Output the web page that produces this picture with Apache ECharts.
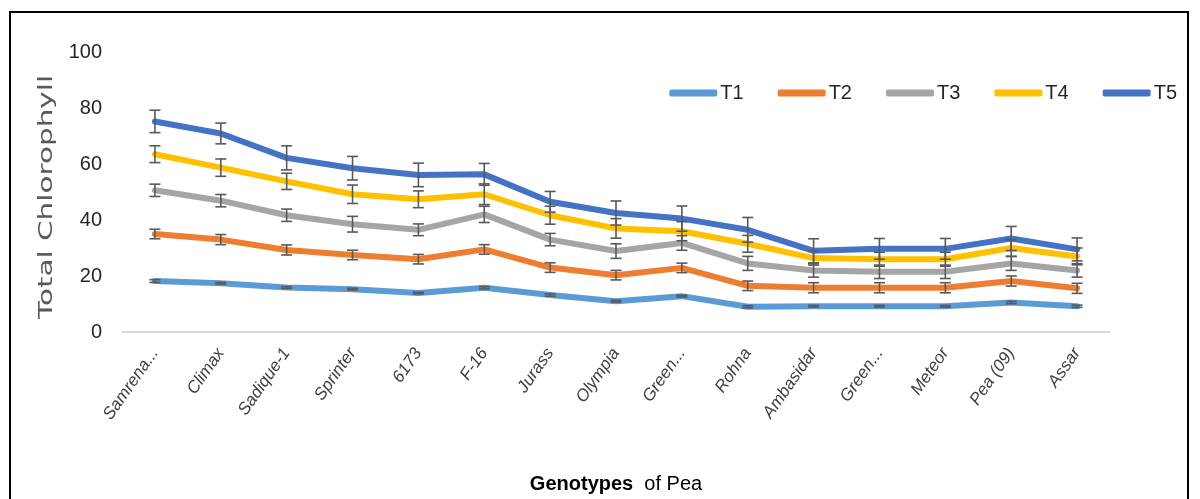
<!DOCTYPE html>
<html>
<head>
<meta charset="utf-8">
<script src="https://cdn.jsdelivr.net/npm/echarts@6/dist/echarts.min.js"></script>
<style>
  html, body { margin: 0; padding: 0; background: #fff; }
  #frame { position: absolute; left: 9px; top: 11px; width: 1180px; height: 520px; border: 2px solid #000; box-sizing: border-box; }
  #chart { position: absolute; left: 0; top: 0; width: 1200px; height: 499px; }
</style>
</head>
<body>
<div id="frame"></div>
<div id="chart"></div>
<script>
const categories = ['Samrena...', 'Climax', 'Sadique-1', 'Sprinter', '6173', 'F-16', 'Jurass', 'Olympia', 'Green...', 'Rohna', 'Ambasidar', 'Green...', 'Meteor', 'Pea (09)', 'Assar'];
const seriesNames = ['T1', 'T2', 'T3', 'T4', 'T5'];
const t1 = [18.2, 17.4, 15.9, 15.3, 13.9, 15.8, 13.2, 11.0, 12.8, 9.0, 9.2, 9.2, 9.2, 10.5, 9.2];
const t2 = [35.0, 33.0, 29.3, 27.5, 26.0, 29.5, 23.0, 20.3, 22.9, 16.5, 15.8, 15.8, 15.8, 18.2, 15.6];
const t3 = [50.6, 46.9, 41.7, 38.5, 36.5, 42.0, 33.0, 28.9, 31.8, 24.5, 22.0, 21.5, 21.5, 24.5, 22.0];
const t4 = [63.5, 58.7, 53.8, 49.2, 47.4, 49.2, 41.7, 37.0, 36.0, 31.5, 26.4, 26.0, 26.0, 30.0, 27.0];
const t5 = [75.2, 70.9, 62.2, 58.5, 56.1, 56.3, 46.5, 42.5, 40.5, 36.5, 29.0, 29.7, 29.7, 33.4, 29.5];
const e1 = [0.5, 0.3, 0.3, 0.3, 0.3, 0.4, 0.4, 0.3, 0.3, 0.4, 0.3, 0.3, 0.3, 0.4, 0.4];
const e2 = [1.7, 1.8, 1.8, 1.7, 1.7, 1.7, 1.7, 1.7, 1.7, 1.7, 1.8, 1.8, 1.8, 1.8, 1.8];
const e3 = [2.2, 2.2, 2.2, 2.8, 2.1, 2.9, 2.2, 2.6, 2.6, 2.5, 2.4, 2.4, 2.4, 2.5, 2.4];
const e4 = [3.0, 3.1, 2.9, 3.3, 3.0, 3.7, 3.2, 3.5, 3.4, 3.0, 2.5, 2.5, 2.5, 3.0, 3.0];
const e5 = [4.0, 3.7, 4.3, 4.2, 4.2, 3.9, 3.7, 4.3, 4.5, 4.4, 4.3, 3.7, 3.7, 4.3, 4.1];
const yTicks = { min: 0, max: 100, interval: 20 };
const colors = ['#5B9BD5', '#ED7D31', '#A5A5A5', '#FFC000', '#4472C4'];

const values = [t1, t2, t3, t4, t5];
const errors = [e1, e2, e3, e4, e5];
const NARROW = '"Liberation Sans Narrow", "Liberation Sans", sans-serif';

const series = [];
values.forEach((vals, k) => {
  series.push({
    name: seriesNames[k],
    type: 'line',
    data: vals,
    showSymbol: false,
    symbol: 'none',
    lineStyle: { width: 6, color: colors[k], cap: 'round', join: 'round' },
    itemStyle: { color: colors[k] },
    z: 2 + k
  });
});
values.forEach((vals, k) => {
  series.push({
    name: seriesNames[k] + ' err',
    type: 'custom',
    data: vals.map((v, i) => [i, v, errors[k][i]]),
    encode: { x: 0, y: 1 },
    z: 20,
    silent: true,
    renderItem: function (params, api) {
      const i = api.value(0), v = api.value(1), e = api.value(2);
      const top = api.coord([i, v + e]);
      const bot = api.coord([i, v - e]);
      const hw = 5.5;
      const st = { stroke: '#595959', lineWidth: 1.6 };
      return {
        type: 'group',
        children: [
          { type: 'line', shape: { x1: top[0], y1: top[1], x2: bot[0], y2: bot[1] }, style: st },
          { type: 'line', shape: { x1: top[0] - hw, y1: top[1], x2: top[0] + hw, y2: top[1] }, style: st },
          { type: 'line', shape: { x1: bot[0] - hw, y1: bot[1], x2: bot[0] + hw, y2: bot[1] }, style: st }
        ]
      };
    }
  });
});

const chart = echarts.init(document.getElementById('chart'), null, { renderer: 'canvas' });
chart.setOption({
  backgroundColor: 'transparent',
  animation: false,
  color: colors,
  grid: { left: 122, right: 90, top: 52, bottom: 159, containLabel: false },
  legend: {
    data: seriesNames,
    right: 18,
    top: 78,
    icon: 'roundRect',
    itemWidth: 48,
    itemHeight: 7,
    itemGap: 34,
    textStyle: { fontFamily: NARROW, fontSize: 20, color: '#262626', padding: [0, 0, 0, -2] }
  },
  xAxis: {
    type: 'category',
    data: categories,
    boundaryGap: true,
    axisLine: { show: true, lineStyle: { color: '#d9d9d9', width: 2 } },
    axisTick: { show: false },
    axisLabel: {
      interval: 0,
      rotate: 55,
      margin: 18,
      fontFamily: '"Liberation Sans", sans-serif',
      fontStyle: 'italic',
      fontSize: 17,
      color: '#404040'
    },
    name: '{b|Genotypes}  of Pea',
    nameLocation: 'middle',
    nameGap: 142,
    nameTextStyle: {
      fontFamily: NARROW,
      fontSize: 20,
      color: '#000',
      rich: { b: { fontFamily: NARROW, fontSize: 20, fontWeight: 'bold', color: '#000' } }
    }
  },
  yAxis: {
    type: 'value',
    min: yTicks.min,
    max: yTicks.max,
    interval: yTicks.interval,
    axisLine: { show: false },
    axisTick: { show: false },
    splitLine: { show: false },
    axisLabel: { margin: 20, fontFamily: NARROW, fontSize: 20, color: '#262626' }
  },
  graphic: [{
    type: 'text',
    x: 47,
    y: 197,
    rotation: Math.PI / 2,
    scaleX: 1.55,
    scaleY: 1,
    style: {
      text: 'Total Chlorophyll',
      font: '19px "DejaVu Sans", sans-serif',
      fill: '#595959',
      textAlign: 'center',
      textVerticalAlign: 'middle'
    }
  }],
  series: series
});
</script>
</body>
</html>
